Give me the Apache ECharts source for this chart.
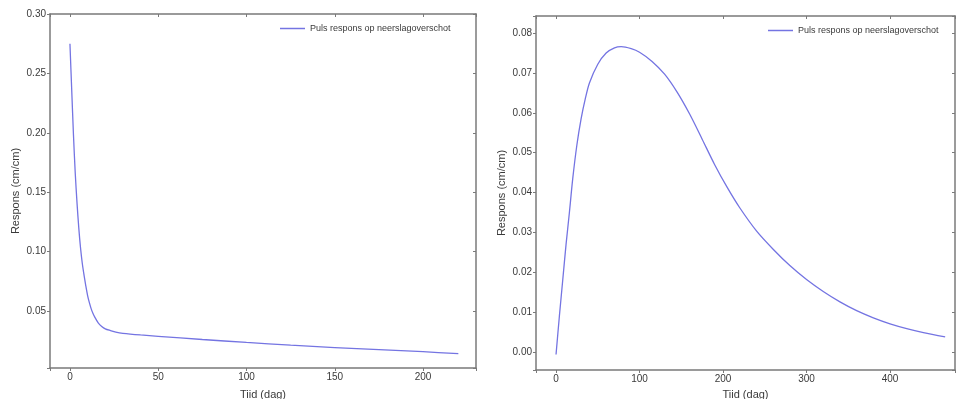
<!DOCTYPE html>
<html>
<head>
<meta charset="utf-8">
<script src="https://cdn.jsdelivr.net/npm/echarts@6/dist/echarts.min.js"></script>
<style>
html,body{margin:0;padding:0;background:#fff;}
#chart{width:957px;height:399px;}
</style>
</head>
<body>
<div id="chart"></div>
<script>
// ---- Data ----
const seriesName = 'Puls respons op neerslagoverschot';
const xTitle = 'Tiid (dag)';
const yTitle = 'Respons (cm/cm)';

// Left panel: fast-decaying pulse response
const leftDays = [0, 1, 2, 3, 4, 5, 6, 7, 8, 9, 10, 11, 12, 13, 14, 16, 18, 20, 23, 26, 30, 40, 50, 75, 100, 125, 150, 175, 200, 220];
const leftResp = [0.275, 0.236, 0.198, 0.166, 0.141, 0.120, 0.103, 0.090, 0.080, 0.071, 0.063, 0.057, 0.052, 0.048, 0.045, 0.040, 0.037, 0.035, 0.0335, 0.0322, 0.0312, 0.0298, 0.0287, 0.0260, 0.0235, 0.0212, 0.0192, 0.0174, 0.0157, 0.0141];

// Right panel: gamma-like pulse response
const rightDays = [0, 4, 8, 12, 16, 20, 25, 30, 35, 40, 50, 60, 70, 78, 90, 100, 115, 130, 145, 160, 175, 190, 205, 220, 240, 260, 280, 300, 320, 340, 360, 380, 400, 420, 440, 466];
const rightResp = [-0.0006, 0.009, 0.018, 0.027, 0.035, 0.0435, 0.052, 0.0585, 0.0635, 0.0675, 0.0722, 0.0750, 0.0763, 0.0766, 0.0761, 0.0752, 0.0729, 0.0697, 0.0652, 0.0597, 0.0534, 0.0470, 0.0413, 0.0362, 0.0304, 0.0258, 0.0217, 0.0182, 0.0152, 0.0126, 0.0104, 0.0086, 0.0071, 0.0059, 0.0049, 0.0038];

// Axis ranges / tick steps
const leftX = {min: -11.3, max: 230, step: 50};
const leftY = {min: 0.002, max: 0.300, step: 0.05};
const rightX = {min: -24, max: 477.8, step: 100};
const rightY = {min: -0.0045, max: 0.0843, step: 0.01};

// ---- Styling ----
const FONT = 'Liberation Sans, Arial, sans-serif';
const LINE_COLOR = '#7474e2';
const FRAME = '#7a7a7a';
const TEXT = '#3a3a3a';

function isMult(v, step) {
  const r = v / step;
  return Math.abs(r - Math.round(r)) < 1e-6;
}

function mainX(gi, r, gap) {
  return {
    type: 'value', gridIndex: gi, position: 'bottom',
    min: r.min, max: r.max, minInterval: r.step, maxInterval: r.step,
    name: xTitle, nameLocation: 'middle', nameGap: gap,
    nameTextStyle: {fontFamily: FONT, fontSize: 11, color: TEXT},
    axisLine: {show: true, onZero: false, lineStyle: {color: FRAME, width: 1.5}},
    axisTick: {show: true, inside: false, length: 3, lineStyle: {color: FRAME}},
    axisLabel: {fontFamily: FONT, fontSize: 10, color: TEXT, margin: 4,
      formatter: v => isMult(v, r.step) ? String(Math.round(v)) : ''},
    splitLine: {show: false}
  };
}
function topX(gi, r) {
  return {
    type: 'value', gridIndex: gi, position: 'top',
    min: r.min, max: r.max, minInterval: r.step, maxInterval: r.step,
    axisLine: {show: true, onZero: false, lineStyle: {color: FRAME, width: 1.5}},
    axisTick: {show: true, inside: true, length: 3, lineStyle: {color: FRAME}},
    axisLabel: {show: false},
    splitLine: {show: false}
  };
}
function mainY(gi, r, gap) {
  return {
    type: 'value', gridIndex: gi, position: 'left',
    min: r.min, max: r.max, minInterval: r.step, maxInterval: r.step,
    name: yTitle, nameLocation: 'middle', nameGap: gap,
    nameTextStyle: {fontFamily: FONT, fontSize: 11, color: TEXT},
    axisLine: {show: true, onZero: false, lineStyle: {color: FRAME, width: 1.5}},
    axisTick: {show: true, inside: false, length: 3, lineStyle: {color: FRAME}},
    axisLabel: {fontFamily: FONT, fontSize: 10, color: TEXT, margin: 4,
      formatter: v => isMult(v, r.step) ? v.toFixed(2) : ''},
    splitLine: {show: false}
  };
}
function rightYAx(gi, r) {
  return {
    type: 'value', gridIndex: gi, position: 'right',
    min: r.min, max: r.max, minInterval: r.step, maxInterval: r.step,
    axisLine: {show: true, onZero: false, lineStyle: {color: FRAME, width: 1.5}},
    axisTick: {show: true, inside: true, length: 3, lineStyle: {color: FRAME}},
    axisLabel: {show: false},
    splitLine: {show: false}
  };
}

const chart = echarts.init(document.getElementById('chart'), null, {renderer: 'canvas'});
const option = {
  backgroundColor: '#ffffff',
  animation: false,
  textStyle: {fontFamily: FONT},
  grid: [
    {left: 50, top: 14, width: 426, height: 354, containLabel: false, outerBoundsMode: 'none'},
    {left: 536, top: 16, width: 419, height: 354, containLabel: false, outerBoundsMode: 'none'}
  ],
  xAxis: [mainX(0, leftX, 21), topX(0, leftX), mainX(1, rightX, 19), topX(1, rightX)],
  yAxis: [mainY(0, leftY, 29), rightYAx(0, leftY), mainY(1, rightY, 29), rightYAx(1, rightY)],
  legend: [
    {left: 275, top: 19, data: [seriesName], icon: 'rect', itemWidth: 25, itemHeight: 1.5, itemGap: 8,
     textStyle: {fontFamily: FONT, fontSize: 9, color: TEXT}, selectedMode: false},
    {left: 763, top: 21, data: [seriesName], icon: 'rect', itemWidth: 25, itemHeight: 1.5, itemGap: 8,
     textStyle: {fontFamily: FONT, fontSize: 9, color: TEXT}, selectedMode: false}
  ],
  series: [
    {name: seriesName, type: 'line', xAxisIndex: 0, yAxisIndex: 0,
     data: leftDays.map((d, i) => [d, leftResp[i]]),
     showSymbol: false, smooth: 0.3, lineStyle: {color: LINE_COLOR, width: 1.3}, itemStyle: {color: LINE_COLOR}},
    {name: seriesName, type: 'line', xAxisIndex: 2, yAxisIndex: 2,
     data: rightDays.map((d, i) => [d, rightResp[i]]),
     showSymbol: false, smooth: 0.3, lineStyle: {color: LINE_COLOR, width: 1.3}, itemStyle: {color: LINE_COLOR}}
  ]
};
chart.setOption(option);
</script>
</body>
</html>
